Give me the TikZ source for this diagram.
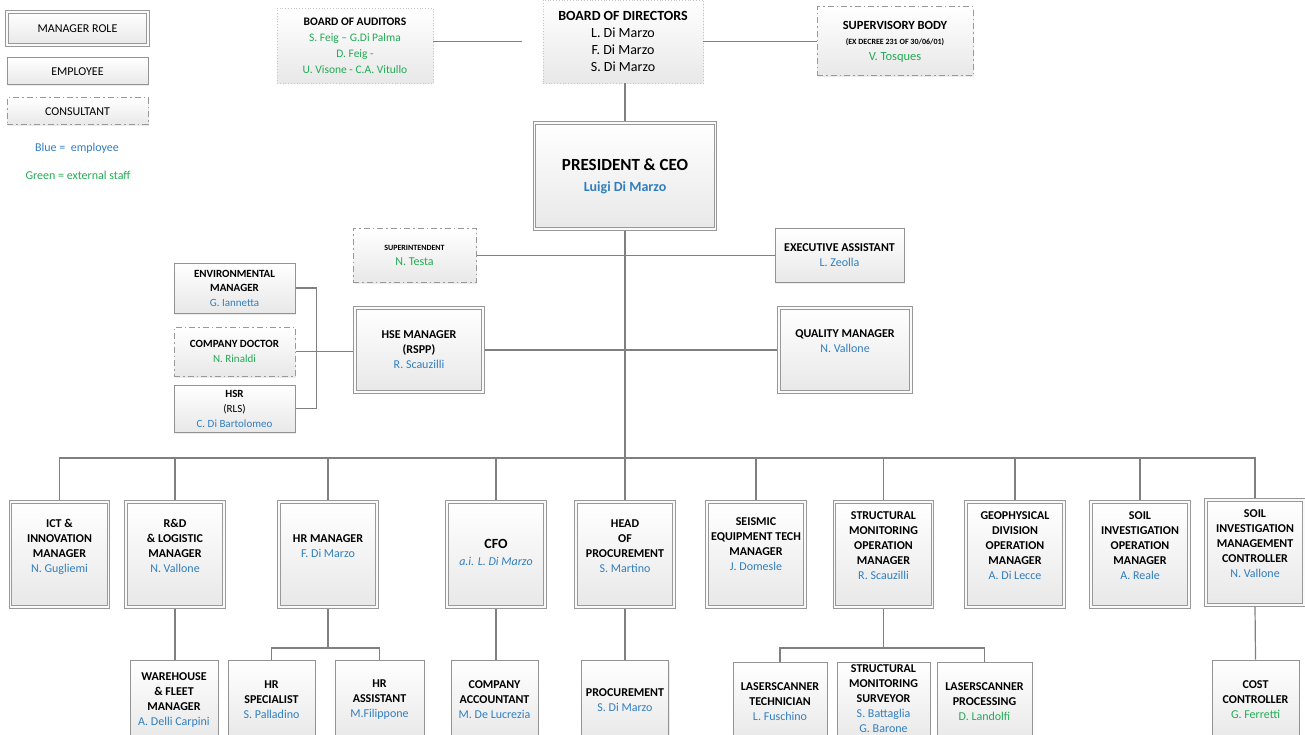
\documentclass[tikz,border=0pt]{standalone}
\usepackage{fontspec}
\setmainfont{Carlito}
\usetikzlibrary{shadows}
\definecolor{empblue}{RGB}{49,126,190}
\definecolor{extgreen}{RGB}{35,170,85}
\definecolor{linegray}{RGB}{128,128,128}
\newcommand{\empname}[1]{{\mdseries\color{empblue}#1}}
\newcommand{\extname}[1]{{\mdseries\color{extgreen}#1}}

\tikzset{
  box/.style={align=center, inner sep=1pt, font=\fontsize{12}{15}\selectfont\bfseries,
    top color=white, bottom color=gray!18,
    drop shadow={opacity=0.15, shadow xshift=1.2pt, shadow yshift=-1.5pt}},
  mgr/.style={box, draw=gray!80, line width=3.2pt, postaction={draw=gray!4, line width=1.3pt}},
  emp/.style={box, draw=gray!85, line width=1pt},
  cons/.style={box, draw=gray!80, line width=1pt, dash pattern=on 6pt off 3pt on 1.5pt off 3pt},
  board/.style={box, draw=gray!45, line width=0.8pt, dotted},
  dept/.style={mgr, minimum width=98pt, minimum height=105pt, text depth=17pt},
  staff/.style={emp, minimum width=88pt, minimum height=80pt},
  legend/.style={font=\fontsize{12}{15}\selectfont},
  conn/.style={draw=linegray, line width=1.2pt}
}

\begin{document}
\begin{tikzpicture}[x=1pt, y=-1pt]
\useasboundingbox (0,0) rectangle (1305,735);

% legend
\node[mgr, legend, minimum width=141pt, minimum height=33pt] (lmgr) at (77.5,28.5) {MANAGER ROLE};
\node[emp, legend, minimum width=141pt, minimum height=27pt] (lemp) at (77.5,71.5) {EMPLOYEE};
\node[cons, legend, minimum width=141pt, minimum height=27pt] (lcons) at (77.5,111.5) {CONSULTANT};
\node[legend, text=empblue] (lblue) at (77,148) {Blue = \ employee};
\node[legend, text=extgreen] (lgreen) at (78,175) {Green = external staff};

% boards and top management
\node[board, minimum width=156pt, minimum height=75pt, font=\fontsize{11.5}{16}\selectfont\bfseries] (aud) at (355,45.5)
  {BOARD OF AUDITORS\\\extname{S. Feig – G.Di Palma}\\\extname{D. Feig -}\\\extname{U. Visone - C.A. Vitullo}};
\node[board, minimum width=160pt, minimum height=83pt, font=\fontsize{14}{17}\selectfont\bfseries] (bod) at (623,41.5)
  {BOARD OF DIRECTORS\\{\mdseries L. Di Marzo}\\{\mdseries F. Di Marzo}\\{\mdseries S. Di Marzo}};
\node[cons, minimum width=156pt, minimum height=69pt, font=\fontsize{12.5}{15.5}\selectfont\bfseries] (sup) at (895,41.5)
  {SUPERVISORY BODY\\{\fontsize{8}{10}\selectfont (EX DECREE 231 OF 30/06/01)}\\\extname{V. Tosques}};
\node[mgr, minimum width=181pt, minimum height=106pt, font=\fontsize{17}{21}\selectfont\bfseries] (ceo) at (625,176)
  {PRESIDENT \& CEO\\{\fontsize{14}{17}\selectfont\color{empblue}Luigi Di Marzo}};

% staff of the CEO
\node[cons, minimum width=123pt, minimum height=54pt] (super) at (414.5,255.5)
  {{\fontsize{8}{10}\selectfont SUPERINTENDENT}\\\extname{N. Testa}};
\node[emp, minimum width=129pt, minimum height=53pt] (ea) at (839.5,255.5)
  {EXECUTIVE ASSISTANT\\\empname{L. Zeolla}};
\node[emp, minimum width=121pt, minimum height=50pt, font=\fontsize{11}{14.5}\selectfont\bfseries] (env) at (234.5,288)
  {ENVIRONMENTAL\\MANAGER\\\empname{G. Iannetta}};
\node[cons, minimum width=121pt, minimum height=49pt, font=\fontsize{11}{14.5}\selectfont\bfseries] (doc) at (234.5,351.5)
  {COMPANY DOCTOR\\\extname{N. Rinaldi}};
\node[emp, minimum width=121pt, minimum height=47pt, font=\fontsize{11}{15}\selectfont\bfseries] (hsr) at (234.5,408.5)
  {HSR\\{\mdseries (RLS)}\\\empname{C. Di Bartolomeo}};
\node[mgr, minimum width=128pt, minimum height=84pt] (hse) at (419,350)
  {HSE MANAGER\\(RSPP)\\\empname{R. Scauzilli}};
\node[mgr, minimum width=132pt, minimum height=84pt, text depth=18pt] (qm) at (845,350)
  {QUALITY MANAGER\\\empname{N. Vallone}};

% departments
\node[dept] (ict) at (59.5,554.5) {ICT \&\\INNOVATION\\MANAGER\\\empname{N. Gugliemi}};
\node[dept] (rd) at (175,554.5) {R\&D\\\& LOGISTIC\\MANAGER\\\empname{N. Vallone}};
\node[dept] (hr) at (328,554.5) {HR MANAGER\\\empname{F. Di Marzo}};
\node[dept, text depth=4pt, font=\fontsize{14}{17}\selectfont\bfseries] (cfo) at (496,554.5)
  {CFO\\{\fontsize{12}{15}\selectfont\itshape\empname{a.i. L. Di Marzo}}};
\node[dept] (hop) at (625,554.5) {HEAD\\OF\\PROCUREMENT\\\empname{S. Martino}};
\node[dept, text depth=20pt] (seis) at (756,554.5) {SEISMIC\\EQUIPMENT TECH\\MANAGER\\\empname{J. Domesle}};
\node[dept] (smom) at (883.5,554.5) {STRUCTURAL\\MONITORING\\OPERATION\\MANAGER\\\empname{R. Scauzilli}};
\node[dept] (geo) at (1015,554.5) {GEOPHYSICAL\\DIVISION\\OPERATION\\MANAGER\\\empname{A. Di Lecce}};
\node[dept] (siom) at (1140,554.5) {SOIL\\INVESTIGATION\\OPERATION\\MANAGER\\\empname{A. Reale}};
\node[dept] (simc) at (1255,552.5) {SOIL\\INVESTIGATION\\MANAGEMENT\\CONTROLLER\\\empname{N. Vallone}};

% staff of the departments
\node[staff] (wh) at (174,700) {WAREHOUSE\\\& FLEET\\MANAGER\\\empname{A. Delli Carpini}};
\node[staff, minimum width=87pt] (hrs) at (271.5,700) {HR\\SPECIALIST\\\empname{S. Palladino}};
\node[staff, minimum width=89pt] (hra) at (379.5,700) {HR\\ASSISTANT\\\empname{M.Filippone}};
\node[staff, minimum width=87pt] (acc) at (494.5,700) {COMPANY\\ACCOUNTANT\\\empname{M. De Lucrezia}};
\node[staff, minimum width=87pt] (proc) at (625,700) {PROCUREMENT\\\empname{S. Di Marzo}};
\node[staff, minimum width=94pt] (lst) at (780,702) {LASERSCANNER\\TECHNICIAN\\\empname{L. Fuschino}};
\node[staff, minimum width=93pt, text depth=6pt] (sms) at (883.5,702) {STRUCTURAL\\MONITORING\\SURVEYOR\\\empname{S. Battaglia}\\\empname{G. Barone}};
\node[staff, minimum width=95pt] (lsp) at (984.5,702) {LASERSCANNER\\PROCESSING\\\extname{D. Landolfi}};
\node[staff, minimum width=87pt] (cost) at (1255.5,700) {COST\\CONTROLLER\\\extname{G. Ferretti}};

% connectors
\coordinate (audend) at (522,41.5);
\coordinate (bus) at (625,458);
\coordinate (hrfork) at (328,648);
\coordinate (smfork) at (883.5,648);
\draw[conn] (aud.east |- audend) -- (audend);
\draw[conn] (bod.east) -- (sup.west);
\draw[conn] (ceo.north) -- (ceo.north |- bod.south);
\draw[conn] (super.east) -- (ea.west);
\draw[conn] (hse.east) -- (qm.west);
\draw[conn] (doc.east) -- (doc.east -| hse.west);
\draw[conn] (env.east) -- ++(21,0) |- (hsr.east);
\draw[conn] (ceo.south) -- (hop.north);
\draw[conn] (ict.north) -- (ict.north |- bus) -- (simc.north |- bus) -- (simc.north);
\foreach \n in {rd,hr,cfo,seis,smom,geo,siom}
  \draw[conn] (\n.north) -- (\n.north |- bus);
\draw[conn] (rd.south) -- (rd.south |- wh.north);
\draw[conn] (hr.south) -- (hrfork);
\draw[conn] (hrs.north) |- (hrfork) -| (hra.north);
\draw[conn] (cfo.south) -- (cfo.south |- acc.north);
\draw[conn] (hop.south) -- (proc.north);
\draw[conn] (smom.south) -- (smfork);
\draw[conn] (lst.north) |- (smfork) -| (lsp.north);
\draw[conn] (simc.south) -- (cost.north);
\end{tikzpicture}
\end{document}
